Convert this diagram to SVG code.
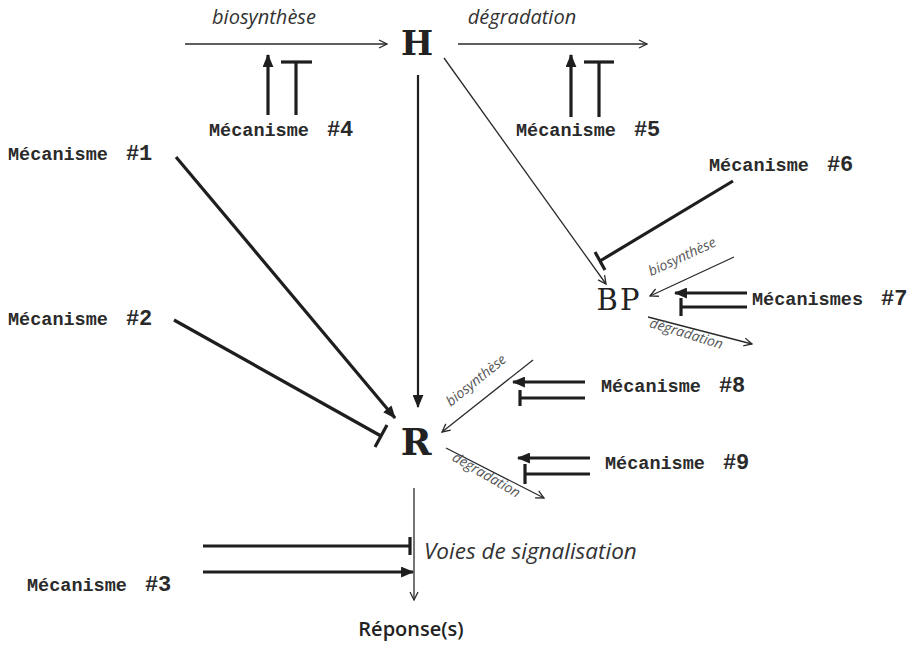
<svg xmlns="http://www.w3.org/2000/svg" width="913" height="666" viewBox="0 0 913 666">
<style>
.bg{fill:#fff}
.thin{stroke:#2a2a2a;stroke-width:1.3;fill:none}
.mid{stroke:#1e1e1e;stroke-width:2.2;fill:none}
.thick{stroke:#1e1e1e;stroke-width:3.2;fill:none}
.mech{font-family:"Courier New","Liberation Mono",monospace;font-weight:bold;font-size:18.5px;fill:#2a2a2a}
.num{font-size:22px}
.big{font-family:"DejaVu Serif",serif;font-weight:bold;fill:#222}
.bp{font-family:"DejaVu Serif",serif;font-weight:normal;fill:#222}
.lab{font-family:"Open Sans","Noto Sans",sans-serif;font-style:italic;fill:#333}
.small{font-family:"Open Sans","Noto Sans",sans-serif;font-style:italic;font-size:14px;fill:#555}
</style>
<defs>
<marker id="open" viewBox="0 0 10 10" refX="9" refY="5" markerWidth="10" markerHeight="10" markerUnits="userSpaceOnUse" orient="auto">
<path d="M1,1 L9,5 L1,9" fill="none" stroke="#2a2a2a" stroke-width="1.3"/>
</marker>
<marker id="filled" viewBox="0 0 12 10" refX="11" refY="5" markerWidth="13" markerHeight="11" markerUnits="userSpaceOnUse" orient="auto">
<path d="M0,0 L12,5 L0,10 z" fill="#1e1e1e"/>
</marker>
</defs>
<rect class="bg" x="0" y="0" width="913" height="666"/>

<g id="connectors">
<line class="thin" x1="185" y1="44" x2="387" y2="44" marker-end="url(#open)"/>
<line class="thin" x1="458" y1="44" x2="647" y2="44" marker-end="url(#open)"/>
<line class="thick" x1="268" y1="115" x2="268" y2="55" marker-end="url(#filled)"/>
<line class="thick" x1="296" y1="115" x2="296" y2="62"/>
<line class="thick" x1="281" y1="62" x2="312" y2="62"/>
<line class="thick" x1="571" y1="117" x2="571" y2="55" marker-end="url(#filled)"/>
<line class="thick" x1="599" y1="117" x2="599" y2="62"/>
<line class="thick" x1="584" y1="62" x2="614" y2="62"/>
<line class="mid" x1="418" y1="75" x2="418" y2="407" marker-end="url(#filled)"/>
<line class="thin" x1="444" y1="58" x2="606" y2="284" marker-end="url(#open)"/>
<line class="thick" x1="176" y1="157" x2="395" y2="418" marker-end="url(#filled)"/>
<line class="thick" x1="174" y1="320" x2="381" y2="436"/>
<line class="thick" x1="375" y1="447" x2="387" y2="425"/>
<line class="thin" x1="414" y1="488" x2="414" y2="600" marker-end="url(#open)"/>
<line class="thick" x1="203" y1="546" x2="410" y2="546"/>
<line class="thick" x1="410" y1="537" x2="410" y2="555"/>
<line class="thick" x1="203" y1="572" x2="413" y2="572" marker-end="url(#filled)"/>
<line class="thick" x1="733" y1="181" x2="600" y2="261"/>
<line class="thick" x1="595" y1="252" x2="605" y2="270"/>
<line class="thin" x1="734" y1="257" x2="650" y2="296" marker-end="url(#open)"/>
<line class="thick" x1="747" y1="293" x2="675" y2="293" marker-end="url(#filled)"/>
<line class="thick" x1="747" y1="307" x2="681" y2="307"/>
<line class="thick" x1="681" y1="298" x2="681" y2="316"/>
<line class="thin" x1="648" y1="317" x2="752" y2="344" marker-end="url(#open)"/>
<line class="thin" x1="533" y1="360" x2="442" y2="432" marker-end="url(#open)"/>
<line class="thick" x1="585" y1="382" x2="513" y2="382" marker-end="url(#filled)"/>
<line class="thick" x1="585" y1="398" x2="520" y2="398"/>
<line class="thick" x1="520" y1="390" x2="520" y2="406"/>
<line class="thin" x1="446" y1="448" x2="544" y2="498" marker-end="url(#open)"/>
<line class="thick" x1="590" y1="458" x2="518" y2="458" marker-end="url(#filled)"/>
<line class="thick" x1="590" y1="474" x2="525" y2="474"/>
<line class="thick" x1="525" y1="464" x2="525" y2="484"/>
</g>

<g id="labels">
<text class="lab" x="264" y="24" font-size="20" text-anchor="middle">biosynthèse</text>
<text class="lab" x="522" y="24" font-size="20" text-anchor="middle">dégradation</text>
<text class="lab" x="424" y="559" font-size="22.5">Voies de signalisation</text>
<text class="small" text-anchor="middle" transform="translate(684,261) rotate(-25)">biosynthèse</text>
<text class="small" text-anchor="middle" transform="translate(685,338) rotate(17)">dégradation</text>
<text class="small" text-anchor="middle" transform="translate(479,384) rotate(-39)">biosynthèse</text>
<text class="small" text-anchor="middle" transform="translate(484,479) rotate(30)">degradation</text>
</g>

<g id="H"><text class="big" x="417" y="55" font-size="34" text-anchor="middle">H</text></g>
<g id="R"><text class="big" x="416" y="455" font-size="37" text-anchor="middle">R</text></g>
<g id="BP"><text class="bp" x="619" y="310" font-size="29" letter-spacing="2" text-anchor="middle">BP</text></g>
<g id="reponse"><text x="411" y="636" font-family="'Open Sans','Noto Sans',sans-serif" font-weight="600" font-size="20" fill="#222" text-anchor="middle">Réponse(s)</text></g>

<g id="m1"><text class="mech" x="8" y="160">Mécanisme<tspan class="num" dx="18">#1</tspan></text></g>
<g id="m2"><text class="mech" x="8" y="325">Mécanisme<tspan class="num" dx="18">#2</tspan></text></g>
<g id="m3"><text class="mech" x="27" y="591">Mécanisme<tspan class="num" dx="18">#3</tspan></text></g>
<g id="m4"><text class="mech" x="209" y="136">Mécanisme<tspan class="num" dx="18">#4</tspan></text></g>
<g id="m5"><text class="mech" x="516" y="136">Mécanisme<tspan class="num" dx="18">#5</tspan></text></g>
<g id="m6"><text class="mech" x="709" y="171">Mécanisme<tspan class="num" dx="18">#6</tspan></text></g>
<g id="m7"><text class="mech" x="752" y="305">Mécanismes<tspan class="num" dx="18">#7</tspan></text></g>
<g id="m8"><text class="mech" x="601" y="392">Mécanisme<tspan class="num" dx="18">#8</tspan></text></g>
<g id="m9"><text class="mech" x="605" y="469">Mécanisme<tspan class="num" dx="18">#9</tspan></text></g>
</svg>
